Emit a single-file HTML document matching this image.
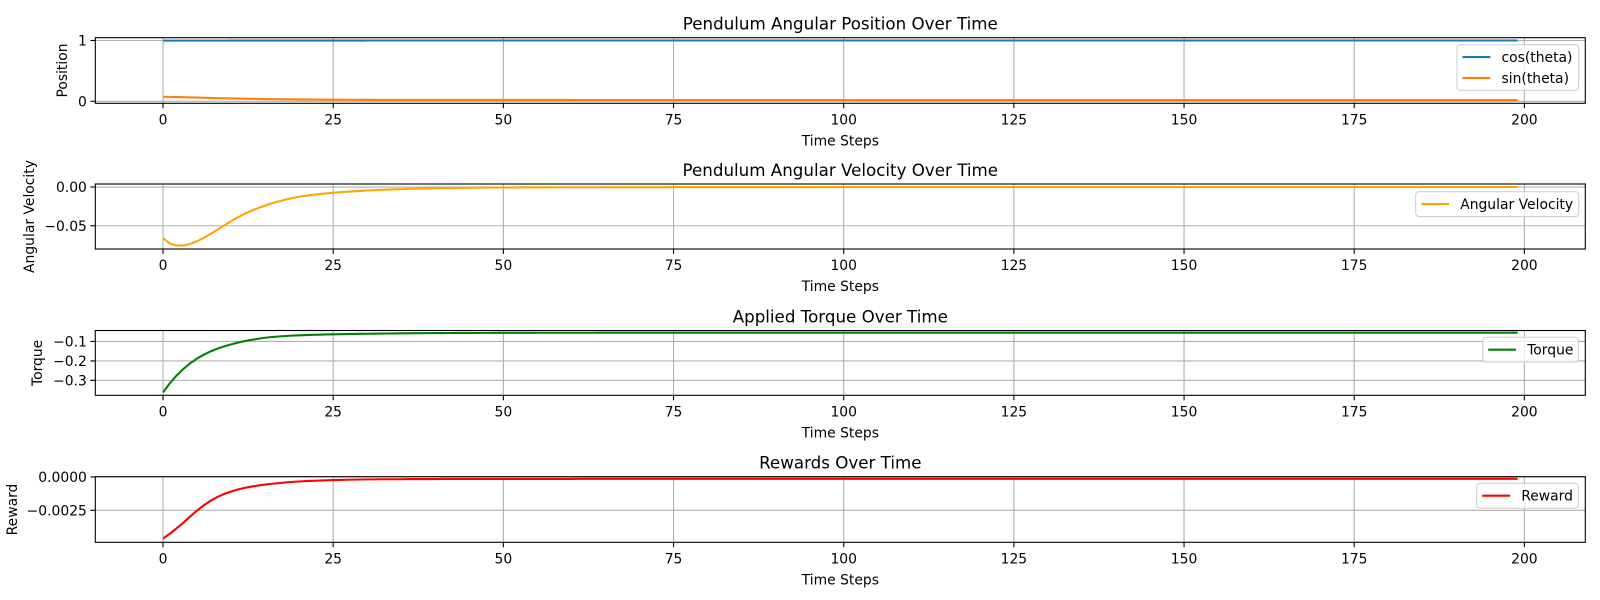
<!DOCTYPE html>
<html><head><meta charset="utf-8"><style>
html,body{margin:0;padding:0;background:#fff;}
svg{display:block;font-family:"DejaVu Sans","Liberation Sans",sans-serif;}
</style></head><body>
<svg id="fig" width="1600" height="600" viewBox="0 0 1600 600" xmlns="http://www.w3.org/2000/svg"></svg>
<script>
const xTicks = [0,25,50,75,100,125,150,175,200];
const cosVals = [
.998,.998,.998,.998,.998,.998,.998,.998,.998,.998,
.999,.999,.999,.999,.999,.999,.999,.999,.999,.999,
.999,.999,.999,.999,.999,.999,.999,.999,.999,.999,
1,1,1,1,1,1,1,1,1,1, 1,1,1,1,1,1,1,1,1,1, 1,1,1,1,1,1,1,1,1,1,
1,1,1,1,1,1,1,1,1,1, 1,1,1,1,1,1,1,1,1,1, 1,1,1,1,1,1,1,1,1,1,
1,1,1,1,1,1,1,1,1,1, 1,1,1,1,1,1,1,1,1,1, 1,1,1,1,1,1,1,1,1,1,
1,1,1,1,1,1,1,1,1,1, 1,1,1,1,1,1,1,1,1,1, 1,1,1,1,1,1,1,1,1,1,
1,1,1,1,1,1,1,1,1,1, 1,1,1,1,1,1,1,1,1,1, 1,1,1,1,1,1,1,1,1,1,
1,1,1,1,1,1,1,1,1,1, 1,1,1,1,1,1,1,1,1,1];
const sinVals = [
.075,.073,.070,.067,.064,.061,.058,.055,.052,.050,
.047,.045,.043,.041,.039,.037,.036,.034,.033,.032,
.031,.030,.029,.028,.027,.026,.026,.025,.025,.024,
.024,.023,.023,.023,.023,.023,.023,.023,.023,.023,
.023,.022,.022,.022,.022,.022,.022,.022,.022,.022,
.022,.022,.022,.022,.022,.022,.022,.022,.022,.022,
.022,.021,.021,.021,.021,.021,.021,.021,.021,.021,
.021,.021,.021,.021,.021,.021,.021,.021,.021,.021,
.021,.021,.021,.021,.021,.021,.021,.021,.021,.021,
.021,.021,.021,.021,.021,.021,.021,.021,.021,.021,
.021,.02,.02,.02,.02,.02,.02,.02,.02,.02,
.02,.02,.02,.02,.02,.02,.02,.02,.02,.02, .02,.02,.02,.02,.02,.02,.02,.02,.02,.02,
.02,.02,.02,.02,.02,.02,.02,.02,.02,.02, .02,.02,.02,.02,.02,.02,.02,.02,.02,.02,
.02,.02,.02,.02,.02,.02,.02,.02,.02,.02, .02,.02,.02,.02,.02,.02,.02,.02,.02,.02,
.02,.02,.02,.02,.02,.02,.02,.02,.02,.02, .02,.02,.02,.02,.02,.02,.02,.02,.02,.02,
.02,.02,.02,.02,.02,.02,.02,.02,.02,.02];
const velVals = [
-.066,-.073,-.0755,-.0755,-.0735,-.070,-.0655,-.0605,-.055,-.0495,
-.044,-.039,-.0345,-.0305,-.027,-.024,-.021,-.0185,-.0163,-.0143,
-.0126,-.0112,-.0101,-.0091,-.0082,-.0074,-.0067,-.0061,-.0055,-.005,
-.0045,-.0041,-.0037,-.0033,-.003,-.0027,-.0024,-.0022,-.002,-.0018,
-.0016,-.0014,-.0013,-.0012,-.0011,-.001,-.0009,-.0008,-.0007,-.0006,
-.0006,-.0005,-.0005,-.0004,-.0004,-.0004,-.0004,-.0004,-.0003,-.0003,
-.0003,-.0003,-.0003,-.0003,-.0003,-.0002,-.0002,-.0002,-.0002,-.0002,
-.0002,-.0002,-.0002,-.0002,-.0002,-.0001,-.0001,-.0001,-.0001,-.0001,
-.0001,-.0001,-.0001,-.0001,-.0001,-.0001,-.0001,-.0001,-.0001,-.0001,
-.0001,-.0001,-.0001,-.0001,-.0001,-.0001,-.0001,-.0001,-.0001,-.0001,
0,0,0,0,0,0,0,0,0,0, 0,0,0,0,0,0,0,0,0,0, 0,0,0,0,0,0,0,0,0,0,
0,0,0,0,0,0,0,0,0,0, 0,0,0,0,0,0,0,0,0,0, 0,0,0,0,0,0,0,0,0,0,
0,0,0,0,0,0,0,0,0,0, 0,0,0,0,0,0,0,0,0,0, 0,0,0,0,0,0,0,0,0,0,
0,0,0,0,0,0,0,0,0,0];
const torqueVals = [
-.362,-.315,-.275,-.241,-.212,-.188,-.168,-.151,-.137,-.125,
-.115,-.106,-.098,-.092,-.086,-.081,-.077,-.0745,-.072,-.070,
-.0685,-.067,-.066,-.065,-.064,-.0633,-.0626,-.062,-.0614,-.0608,
-.0603,-.0598,-.0594,-.059,-.0586,-.0582,-.0579,-.0576,-.0573,-.0571,
-.0569,-.0567,-.0565,-.0563,-.0562,-.0561,-.056,-.0559,-.0558,-.0557,
-.0556,-.0555,-.0555,-.0554,-.0554,-.0553,-.0553,-.0552,-.0552,-.0552,
-.0551,-.0551,-.0551,-.0551,-.055,-.055,-.055,-.055,-.055,-.055,
-.055,-.055,-.055,-.055,-.055,-.055,-.055,-.055,-.055,-.055,
-.055,-.055,-.055,-.055,-.055,-.055,-.055,-.055,-.055,-.055,
-.055,-.055,-.055,-.055,-.055,-.055,-.055,-.055,-.055,-.055,
-.055,-.055,-.055,-.055,-.055,-.055,-.055,-.055,-.055,-.055,
-.055,-.055,-.055,-.055,-.055,-.055,-.055,-.055,-.055,-.055,
-.055,-.055,-.055,-.055,-.055,-.055,-.055,-.055,-.055,-.055,
-.055,-.055,-.055,-.055,-.055,-.055,-.055,-.055,-.055,-.055,
-.055,-.055,-.055,-.055,-.055,-.055,-.055,-.055,-.055,-.055,
-.055,-.055,-.055,-.055,-.055,-.055,-.055,-.055,-.055,-.055,
-.055,-.055,-.055,-.055,-.055,-.055,-.055,-.055,-.055,-.055,
-.055,-.055,-.055,-.055,-.055,-.055,-.055,-.055,-.055,-.055,
-.055,-.055,-.055,-.055,-.055,-.055,-.055,-.055,-.055,-.055,
-.055,-.055,-.055,-.055,-.055,-.055,-.055,-.055,-.055,-.055];
const rewardVals = [
-.00462,-.00425,-.00385,-.00342,-.00296,-.00252,-.00212,-.00178,-.00150,-.00127,
-.00109,-.00094,-.00082,-.00072,-.00064,-.00057,-.00051,-.00046,-.00041,-.00037,
-.00034,-.00031,-.00029,-.00027,-.00025,-.00023,-.00022,-.00021,-.0002,-.00019,
-.00018,-.00018,-.00017,-.00017,-.00017,-.00017,-.00016,-.00016,-.00016,-.00016,
-.00016,-.00015,-.00015,-.00015,-.00015,-.00015,-.00015,-.00015,-.00015,-.00015,
-.00015,-.00015,-.00015,-.00015,-.00015,-.00015,-.00015,-.00015,-.00015,-.00015,
-.00015,-.00014,-.00014,-.00014,-.00014,-.00014,-.00014,-.00014,-.00014,-.00014,
-.00014,-.00014,-.00014,-.00014,-.00014,-.00014,-.00014,-.00014,-.00014,-.00014,
-.00014,-.00014,-.00014,-.00014,-.00014,-.00014,-.00014,-.00014,-.00014,-.00014,
-.00014,-.00014,-.00014,-.00014,-.00014,-.00014,-.00014,-.00014,-.00014,-.00014,
-.00014,-.00014,-.00014,-.00014,-.00014,-.00014,-.00014,-.00014,-.00014,-.00014,
-.00014,-.00014,-.00014,-.00014,-.00014,-.00014,-.00014,-.00014,-.00014,-.00014,
-.00014,-.00014,-.00014,-.00014,-.00014,-.00014,-.00014,-.00014,-.00014,-.00014,
-.00014,-.00014,-.00014,-.00014,-.00014,-.00014,-.00014,-.00014,-.00014,-.00014,
-.00014,-.00014,-.00014,-.00014,-.00014,-.00014,-.00014,-.00014,-.00014,-.00014,
-.00014,-.00014,-.00014,-.00014,-.00014,-.00014,-.00014,-.00014,-.00014,-.00014,
-.00014,-.00014,-.00014,-.00014,-.00014,-.00014,-.00014,-.00014,-.00014,-.00014,
-.00014,-.00014,-.00014,-.00014,-.00014,-.00014,-.00014,-.00014,-.00014,-.00014,
-.00014,-.00014,-.00014,-.00014,-.00014,-.00014,-.00014,-.00014,-.00014,-.00014,
-.00014,-.00014,-.00014,-.00014,-.00014,-.00014,-.00014,-.00014,-.00014,-.00014];
const p1Ticks = [0, 1], p1Labels = ["0", "1"];
const p2Ticks = [0, -0.05], p2Labels = ["0.00", "\u22120.05"];
const p3Ticks = [-0.1, -0.2, -0.3], p3Labels = ["\u22120.1", "\u22120.2", "\u22120.3"];
const p4Ticks = [0, -0.0025], p4Labels = ["0.0000", "\u22120.0025"];

const NS = "http://www.w3.org/2000/svg";
const svg = document.getElementById('fig');
function mk(tag, attrs, parent) {
  const e = document.createElementNS(NS, tag);
  for (const k in attrs) e.setAttribute(k, attrs[k]);
  (parent || svg).appendChild(e);
  return e;
}
const X0 = 95.3, X1 = 1585.3, XMIN = -9.95, XMAX = 208.95;
const xs = t => X0 + (t - XMIN) / (XMAX - XMIN) * (X1 - X0);

const panels = [
  {key:'position', top:37.7, bot:103.3, ymin:-0.033, ymax:1.046, ticks:p1Ticks, labels:p1Labels,
   title:'Pendulum Angular Position Over Time', ylabel:'Position', ylx:63,
   series:[{name:'cos(theta)', vals:cosVals, color:'#1f77b4'}, {name:'sin(theta)', vals:sinVals, color:'#ff7f0e'}],
   leg:{x:1457, y:44.7, w:121.7}},
  {key:'velocity', top:184, bot:249, ymin:-0.080, ymax:0.0039, ticks:p2Ticks, labels:p2Labels,
   title:'Pendulum Angular Velocity Over Time', ylabel:'Angular Velocity', ylx:30,
   series:[{name:'Angular Velocity', vals:velVals, color:'#ffa500'}],
   leg:{x:1415.7, y:191.7, w:163}},
  {key:'torque', top:330.5, bot:395.3, ymin:-0.377, ymax:-0.0436, ticks:p3Ticks, labels:p3Labels,
   title:'Applied Torque Over Time', ylabel:'Torque', ylx:38,
   series:[{name:'Torque', vals:torqueVals, color:'#008000'}],
   leg:{x:1482.7, y:337.3, w:95.6}},
  {key:'reward', top:476.7, bot:542.3, ymin:-0.0049, ymax:0.00002, ticks:p4Ticks, labels:p4Labels,
   title:'Rewards Over Time', ylabel:'Reward', ylx:13,
   series:[{name:'Reward', vals:rewardVals, color:'#ff0000'}],
   leg:{x:1476.7, y:483.3, w:101.6}}
];

panels.forEach(p => {
  const ys = v => p.bot - (v - p.ymin) / (p.ymax - p.ymin) * (p.bot - p.top);
  const g = mk('g', {});
  
  
  xTicks.forEach(t => {
    const l = mk('line', {x1:xs(t), x2:xs(t), y1:p.top, y2:p.bot, stroke:'#b0b0b0', 'stroke-width':1.1}, g);
    
    
    const tk = mk('line', {x1:xs(t), x2:xs(t), y1:p.bot, y2:p.bot+4.9, stroke:'#000', 'stroke-width':1.1}, g);
    
    
    const tl = mk('text', {x:xs(t), y:p.bot+21, 'font-size':13.9, 'text-anchor':'middle', fill:'#000'}, g);
    tl.textContent = t;
    
    
  });
  p.ticks.forEach((v, i) => {
    const l = mk('line', {x1:X0, x2:X1, y1:ys(v), y2:ys(v), stroke:'#b0b0b0', 'stroke-width':1.1}, g);
    
    
    const tk = mk('line', {x1:X0-4.9, x2:X0, y1:ys(v), y2:ys(v), stroke:'#000', 'stroke-width':1.1}, g);
    
    
    const tl = mk('text', {x:X0-8.4, y:ys(v)+5, 'font-size':13.9, 'text-anchor':'end', fill:'#000'}, g);
    tl.textContent = p.labels[i];
    
    
  });
  const cp = mk('clipPath', {id:'clip-' + p.key}, g);
  mk('rect', {x:X0, y:p.top, width:X1-X0, height:p.bot-p.top}, cp);
  p.series.forEach(s => {
    const d = s.vals.map((v, i) => (i ? 'L' : 'M') + xs(i).toFixed(2) + ',' + ys(v).toFixed(2)).join('');
    const path = mk('path', {d:d, fill:'none', stroke:s.color, 'stroke-width':2.08, 'stroke-linejoin':'round', 'clip-path':'url(#clip-' + p.key + ')'}, g);
    
    
  });
  const frame = mk('rect', {x:X0, y:p.top, width:X1-X0, height:p.bot-p.top, fill:'none', stroke:'#000', 'stroke-width':1.1}, g);
  
  
  const title = mk('text', {x:(X0+X1)/2, y:p.top-8, 'font-size':16.7, 'text-anchor':'middle', fill:'#000'}, g);
  title.textContent = p.title;
  
  
  const xl = mk('text', {x:(X0+X1)/2, y:p.bot+42, 'font-size':13.9, 'text-anchor':'middle', fill:'#000'}, g);
  xl.textContent = 'Time Steps';
  
  
  const cy = (p.top + p.bot) / 2;
  const yl = mk('text', {x:p.ylx, y:cy, 'font-size':13.9, 'text-anchor':'middle', 'dominant-baseline':'central', fill:'#000', transform:'rotate(-90 ' + p.ylx + ' ' + cy + ')'}, g);
  yl.textContent = p.ylabel;
  
  
  const lg = mk('g', {}, g);
  
  
  mk('rect', {x:p.leg.x, y:p.leg.y, width:p.leg.w, height:p.series.length === 1 ? 24.8 : 45.5, rx:3, fill:'#fff', 'fill-opacity':0.8, stroke:'#cccccc', 'stroke-width':1}, lg);
  p.series.forEach((s, i) => {
    const yy = p.leg.y + 12.4 + i * 20.8;
    const e = mk('g', {}, lg);
    
    
    mk('line', {x1:p.leg.x+5.5, x2:p.leg.x+33.3, y1:yy, y2:yy, stroke:s.color, 'stroke-width':2.08}, e);
    const t = mk('text', {x:p.leg.x+44.5, y:yy+5, 'font-size':13.9, fill:'#000'}, e);
    t.textContent = s.name;
  });
});
</script>
</body></html>
